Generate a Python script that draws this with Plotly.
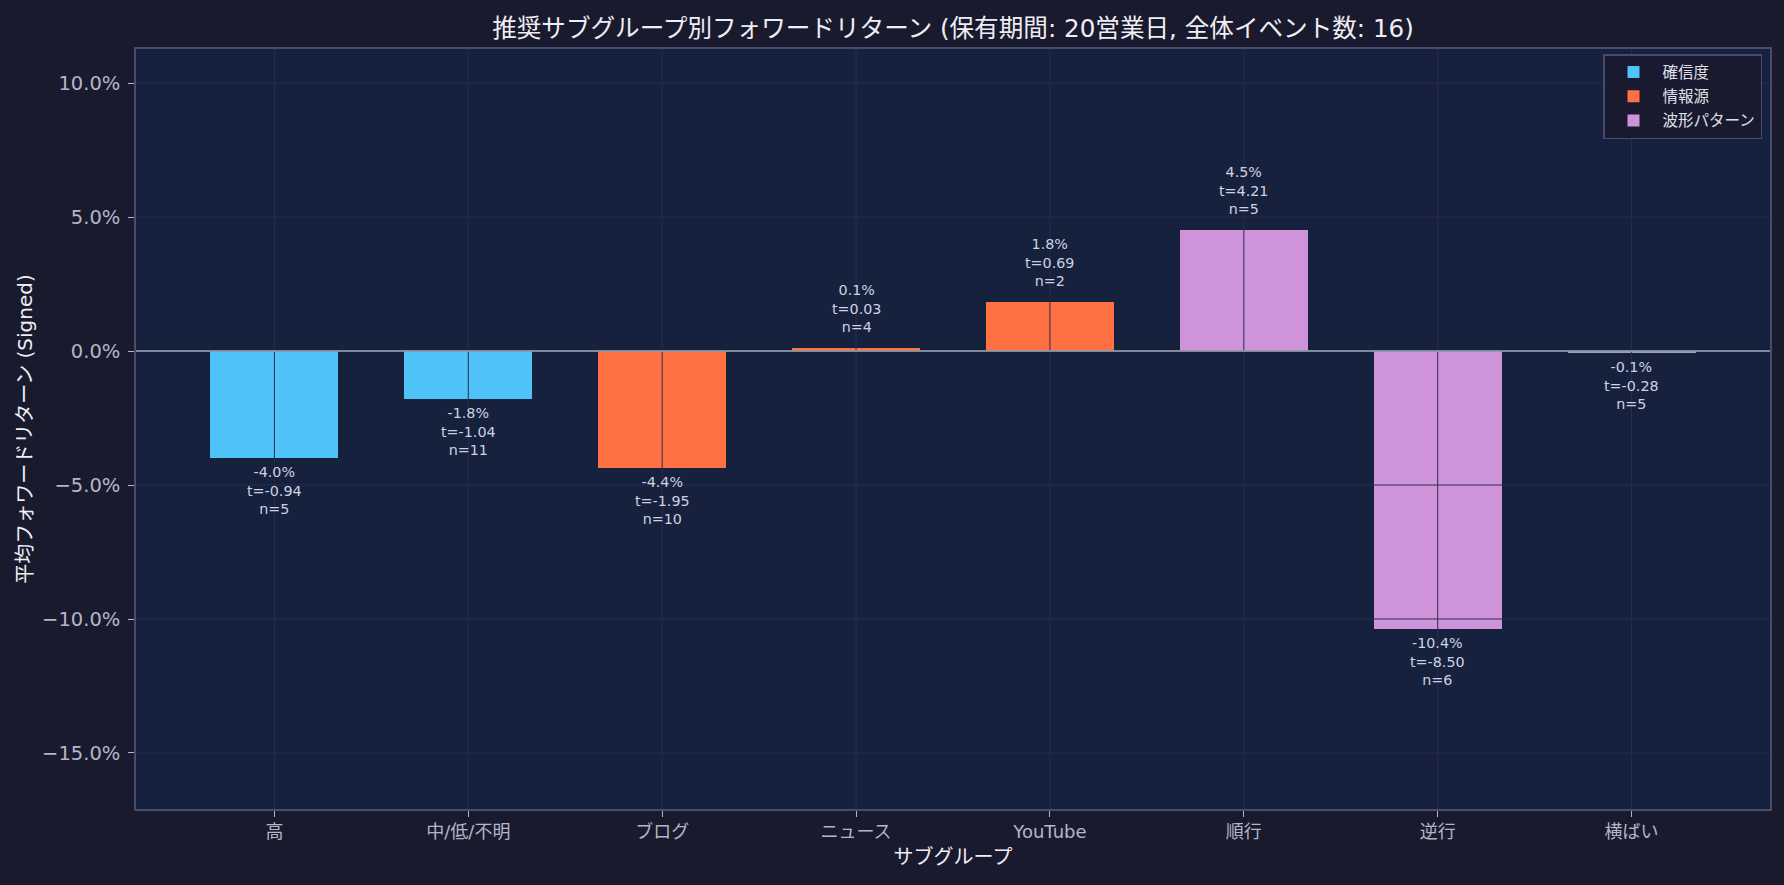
import plotly.graph_objects as go

# ---- data ----
categories = ["高", "中/低/不明", "ブログ", "ニュース", "YouTube", "順行", "逆行", "横ばい"]
groups = ["確信度", "確信度", "情報源", "情報源", "情報源", "波形パターン", "波形パターン", "横ばい"]
mean_returns = [-3.98, -1.78, -4.38, 0.12, 1.84, 4.53, -10.37, -0.08]  # percent
t_stats = [-0.94, -1.04, -1.95, 0.03, 0.69, 4.21, -8.50, -0.28]
n_events = [5, 11, 10, 4, 2, 5, 6, 5]
y_ticks = [-15, -10, -5, 0, 5, 10]
y_tick_labels = ["−15.0%", "−10.0%", "−5.0%", "0.0%", "5.0%", "10.0%"]

group_colors = {
    "確信度": "#4fc3f7",
    "情報源": "#ff7043",
    "波形パターン": "#ce93d8",
    "横ばい": "#9aa2b4",
}
legend_groups = ["確信度", "情報源", "波形パターン"]

FONT = "DejaVu Sans, Noto Sans CJK JP"
PAPER = "#1a1a2e"
PLOT = "#16213e"
SPINE = "#4a4a6e"
TICK_COL = "#b4b5c8"
TEXT_COL = "#eeeef4"
GRID = "#2a2c4e"

fig = go.Figure()

for g in list(group_colors.keys()):
    xs = [c for c, gg in zip(categories, groups) if gg == g]
    ys = [v for v, gg in zip(mean_returns, groups) if gg == g]
    fig.add_trace(go.Bar(
        x=xs, y=ys, name=g, legendgroup=g,
        marker=dict(color=group_colors[g], line=dict(width=0)),
        width=0.66,
        showlegend=g in legend_groups,
        hoverinfo="skip",
    ))

# value labels
for c, v, t, n in zip(categories, mean_returns, t_stats, n_events):
    txt = f"{v:.1f}%<br>t={t:.2f}<br>n={n}"
    fig.add_annotation(
        x=c, y=v, text=txt, showarrow=False,
        yanchor="bottom" if v >= 0 else "top",
        yshift=11 if v >= 0 else -4,
        font=dict(family=FONT, size=14.3, color="#cfd1e0"),
        align="center",
    )

# grid lines drawn above bars (as in reference)
shapes = []
for c in categories:
    shapes.append(dict(type="line", xref="x", yref="paper", x0=c, x1=c, y0=0, y1=1,
                       line=dict(color=GRID, width=1), layer="above"))
for yt in y_ticks:
    shapes.append(dict(type="line", xref="paper", yref="y", x0=0, x1=1, y0=yt, y1=yt,
                       line=dict(color=GRID, width=1), layer="above"))
shapes.append(dict(type="line", xref="paper", yref="y", x0=0, x1=1, y0=0, y1=0,
                   line=dict(color="#a2aab9", width=1.5), layer="above"))

fig.update_layout(
    width=1784, height=885,
    margin=dict(l=136, r=14, t=49, b=76),
    paper_bgcolor=PAPER, plot_bgcolor=PLOT,
    font=dict(family=FONT, color=TICK_COL, size=16),
    title=dict(
        text="推奨サブグループ別フォワードリターン (保有期間: 20営業日, 全体イベント数: 16)",
        x=(136 + 1770) / 2 / 1784, xanchor="center", y=1 - 28.5 / 885, yanchor="middle",
        font=dict(family=FONT, size=24.6, color=TEXT_COL),
    ),
    barmode="overlay",
    bargap=0,
    shapes=shapes,
    showlegend=True,
    legend=dict(
        x=1 - 8 / 1634, xanchor="right", y=1 - 5 / 760, yanchor="top",
        bgcolor="rgba(26,26,46,0.92)", bordercolor=SPINE, borderwidth=1.5,
        font=dict(family=FONT, size=15.5, color="#e0e0ea"),
        traceorder="grouped", tracegroupgap=1, itemwidth=48,
    ),
)

fig.update_xaxes(
    categoryorder="array", categoryarray=categories,
    range=[-0.714, 7.714],
    showgrid=False, zeroline=False,
    showline=True, linecolor=SPINE, linewidth=1.5, mirror=True,
    ticks="outside", ticklen=6, tickcolor=TICK_COL, tickwidth=1.2,
    tickfont=dict(family=FONT, size=18, color=TICK_COL),
    title=dict(text="サブグループ", font=dict(family=FONT, size=20, color=TEXT_COL), standoff=9),
)
fig.update_yaxes(
    range=[-17.09, 11.27],
    tickvals=y_ticks, ticktext=y_tick_labels,
    showgrid=False, zeroline=False,
    showline=True, linecolor=SPINE, linewidth=1.5, mirror=True,
    ticks="outside", ticklen=6, tickcolor=TICK_COL, tickwidth=1.2,
    ticklabelstandoff=4,
    tickfont=dict(family=FONT, size=19.5, color=TICK_COL),
    title=dict(text="平均フォワードリターン (Signed)", font=dict(family=FONT, size=20, color=TEXT_COL), standoff=4),
)

fig.write_html("out.html")
